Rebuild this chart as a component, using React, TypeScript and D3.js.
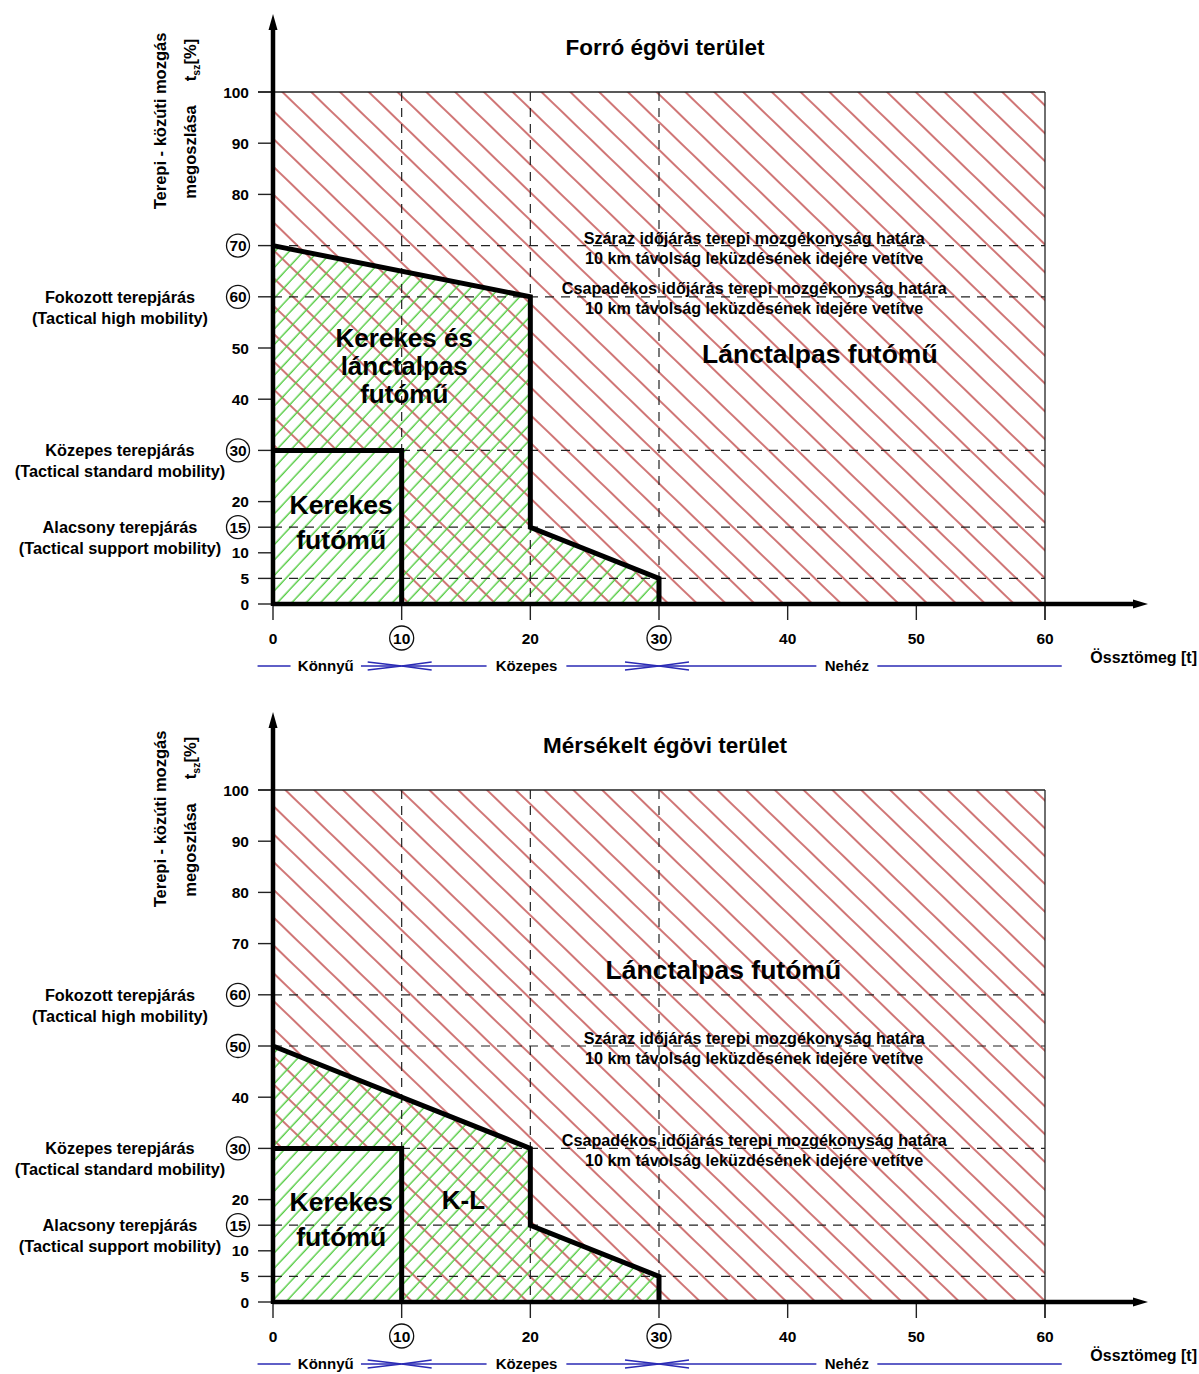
import React from "react";
import * as d3 from "d3";

const xTicks = [0, 10, 20, 30, 40, 50, 60];
const xCircled = [10, 30];
const yTicks = [0, 5, 10, 15, 20, 30, 40, 50, 60, 70, 80, 90, 100];
const gridX = [10, 20, 30];

const hotTitle = "Forró égövi terület";
const hotCircled = [15, 30, 60, 70];
const hotDashedY = [70, 60, 30, 15, 5];
const hotBoundary: [number, number][] = [[0, 70], [20, 60], [20, 15], [30, 5], [30, 0]];

const tempTitle = "Mérsékelt égövi terület";
const tempCircled = [15, 30, 50, 60];
const tempDashedY = [60, 50, 30, 15, 5];
const tempBoundary: [number, number][] = [[0, 50], [20, 30], [20, 15], [30, 5], [30, 0]];

const wheeledBox: [number, number][] = [[0, 30], [10, 30], [10, 0]];

const mobilityLabels = [
  { v: 60, l1: "Fokozott terepjárás", l2: "(Tactical high mobility)" },
  { v: 30, l1: "Közepes terepjárás", l2: "(Tactical standard mobility)" },
  { v: 15, l1: "Alacsony terepjárás", l2: "(Tactical support mobility)" },
];

const weightClasses = [
  { name: "Könnyű", from: -1.2, to: 10, at: 4.1 },
  { name: "Közepes", from: 10, to: 30, at: 19.7 },
  { name: "Nehéz", from: 30, to: 61.3, at: 44.6 },
];

const dryText = ["Száraz időjárás terepi mozgékonyság határa", "10 km távolság leküzdésének idejére vetítve"];
const wetText = ["Csapadékos időjárás terepi mozgékonyság határa", "10 km távolság leküzdésének idejére vetítve"];

const FONT = "'Liberation Sans', Arial, sans-serif";
const RED = "#c04848";
const GREEN = "#55cc44";
const BLUE = "#2a2ab4";

type RegionLabel = { x: number; y: number; lines: string[]; size: number; gap: number };
type PanelProps = {
  oy: number;
  title: string;
  circled: number[];
  dashedY: number[];
  boundary: [number, number][];
  regionLabels: RegionLabel[];
  notes: { x: number; y: number; lines: string[] }[];
};

function Panel({ oy, title, circled, dashedY, boundary, regionLabels, notes }: PanelProps) {
  const x = d3.scaleLinear().domain([0, 60]).range([273, 1045]);
  const y = d3.scaleLinear().domain([0, 100]).range([604 + oy, 92 + oy]);
  const line = d3.line<[number, number]>().x((d) => x(d[0])).y((d) => y(d[1]));

  const redPath =
    `M${x(0)},${y(0)}H${x(60)}V${y(100)}H${x(0)}Z` +
    `M${x(0)},${y(0)}V${y(30)}H${x(10)}V${y(0)}Z`;
  const greenPoly: [number, number][] = [[0, 0], ...boundary];

  const legendY = 666 + oy;
  return (
    <g>
      <text x={665} y={55 + oy} textAnchor="middle" fontFamily={FONT} fontWeight="bold" fontSize={22.5}>
        {title}
      </text>
      {/* hatch areas */}
      <path d={redPath} fill="url(#redHatch)" fillRule="evenodd" />
      <path d={line(greenPoly) + "Z"} fill="url(#greenHatch)" />
      {/* plot frame */}
      <line x1={258} x2={x(60)} y1={y(100)} y2={y(100)} stroke="#222" strokeWidth={1.3} />
      <line x1={x(60)} x2={x(60)} y1={y(100)} y2={y(0) + 16} stroke="#222" strokeWidth={1.3} />
      {/* grid */}
      {gridX.map((g) => (
        <line key={"gx" + g} x1={x(g)} x2={x(g)} y1={y(100)} y2={y(0)} stroke="#222" strokeWidth={1.2} strokeDasharray="9,7" />
      ))}
      {dashedY.map((g) => (
        <line key={"gy" + g} x1={x(0)} x2={x(60)} y1={y(g)} y2={y(g)} stroke="#222" strokeWidth={1.2} strokeDasharray="9,7" />
      ))}
      {/* boundaries */}
      <path d={line(boundary) || ""} fill="none" stroke="#000" strokeWidth={5} strokeLinejoin="miter" />
      <path d={line(wheeledBox) || ""} fill="none" stroke="#000" strokeWidth={5} strokeLinejoin="miter" />
      {/* y ticks */}
      {yTicks.map((t) => {
        const isC = circled.includes(t);
        return (
          <g key={"yt" + t}>
            <line x1={258} x2={x(0)} y1={y(t)} y2={y(t)} stroke="#222" strokeWidth={1.4} />
            {isC && <circle cx={238} cy={y(t)} r={11.5} fill="#fff" stroke="#111" strokeWidth={1.3} />}
            <text
              x={isC ? 238 : 249}
              y={y(t)}
              dy="0.36em"
              textAnchor={isC ? "middle" : "end"}
              fontFamily={FONT}
              fontWeight="bold"
              fontSize={15.5}
            >
              {t}
            </text>
          </g>
        );
      })}
      {/* x ticks */}
      {xTicks.map((t) => {
        const isC = xCircled.includes(t);
        return (
          <g key={"xt" + t}>
            <line x1={x(t)} x2={x(t)} y1={y(0)} y2={y(0) + 16} stroke="#222" strokeWidth={1.4} />
            {isC && <circle cx={x(t)} cy={y(0) + 34} r={12} fill="#fff" stroke="#111" strokeWidth={1.3} />}
            <text x={x(t)} y={y(0) + 34} dy="0.36em" textAnchor="middle" fontFamily={FONT} fontWeight="bold" fontSize={15.5}>
              {t}
            </text>
          </g>
        );
      })}
      {/* axes */}
      <line x1={x(0)} x2={1136} y1={y(0)} y2={y(0)} stroke="#000" strokeWidth={4.5} />
      <path d={`M1133,${y(0) - 4.5}L1148,${y(0)}L1133,${y(0) + 4.5}Z`} fill="#000" />
      <line x1={x(0)} x2={x(0)} y1={y(0) + 2} y2={28 + oy} stroke="#000" strokeWidth={4.5} />
      <path d={`M${x(0) - 4.5},${30 + oy}L${x(0)},${14 + oy}L${x(0) + 4.5},${30 + oy}Z`} fill="#000" />
      {/* y axis title */}
      <text transform={`translate(166,${121 + oy}) rotate(-90)`} textAnchor="middle" fontFamily={FONT} fontWeight="bold" fontSize={16.5}>
        Terepi - közúti mozgás
      </text>
      <text transform={`translate(196,${152 + oy}) rotate(-90)`} textAnchor="middle" fontFamily={FONT} fontWeight="bold" fontSize={16.5}>
        megoszlása
      </text>
      <text transform={`translate(196,${60 + oy}) rotate(-90)`} textAnchor="middle" fontFamily={FONT} fontWeight="bold" fontSize={16.5}>
        t<tspan fontSize={10.5} dy={4}>sz</tspan>
        <tspan dy={-4}>[%]</tspan>
      </text>
      {/* mobility labels */}
      {mobilityLabels.map((m) => (
        <g key={"m" + m.v} fontFamily={FONT} fontWeight="bold" fontSize={16.3} textAnchor="middle">
          <text x={120} y={y(m.v)} dy="0.36em">{m.l1}</text>
          <text x={120} y={y(m.v) + 21} dy="0.36em">{m.l2}</text>
        </g>
      ))}
      {/* region labels */}
      {regionLabels.map((r, i) => (
        <g key={"r" + i} fontFamily={FONT} fontWeight="bold" fontSize={r.size} textAnchor="middle">
          {r.lines.map((s, j) => (
            <text key={j} x={x(r.x)} y={y(r.y) + j * r.gap} dy="0.36em">{s}</text>
          ))}
        </g>
      ))}
      {notes.map((n, i) => (
        <g key={"n" + i} fontFamily={FONT} fontWeight="bold" fontSize={16.2} textAnchor="middle">
          {n.lines.map((s, j) => (
            <text key={j} x={x(n.x)} y={y(n.y) + j * 20} dy="0.36em">{s}</text>
          ))}
        </g>
      ))}
      {/* weight class legend */}
      {weightClasses.map((w) => {
        const tx = x(w.at);
        const half = w.name.length * 4.7 + 7;
        return (
          <g key={w.name}>
            <line x1={x(w.from)} x2={tx - half} y1={legendY} y2={legendY} stroke={BLUE} strokeWidth={1.3} />
            <line x1={tx + half} x2={x(w.to)} y1={legendY} y2={legendY} stroke={BLUE} strokeWidth={1.3} />
            <text x={tx} y={legendY} dy="0.36em" textAnchor="middle" fontFamily={FONT} fontWeight="bold" fontSize={15}>
              {w.name}
            </text>
          </g>
        );
      })}
      {xCircled.map((c) => (
        <g key={"arr" + c} stroke={BLUE} strokeWidth={1.3} fill="none">
          <path d={`M${x(c) - 34},${legendY - 4}L${x(c)},${legendY}L${x(c) - 34},${legendY + 4}`} />
          <path d={`M${x(c) + 30},${legendY - 4}L${x(c)},${legendY}L${x(c) + 30},${legendY + 4}`} />
        </g>
      ))}
      <text x={1197} y={657 + oy} dy="0.36em" textAnchor="end" fontFamily={FONT} fontWeight="bold" fontSize={16}>
        Össztömeg [t]
      </text>
    </g>
  );
}

export default function App() {
  return (
    <svg width={1199} height={1374} style={{ position: "absolute", left: 0, top: 0, background: "#fff" }}>
      <defs>
        <pattern id="redHatch" patternUnits="userSpaceOnUse" width={40} height={20} patternTransform="rotate(44)">
          <line x1={0} x2={40} y1={10} y2={10} stroke={RED} strokeWidth={1.3} />
        </pattern>
        <pattern id="greenHatch" patternUnits="userSpaceOnUse" width={40} height={10.5} patternTransform="rotate(-47)">
          <line x1={0} x2={40} y1={5} y2={5} stroke={GREEN} strokeWidth={1.4} />
        </pattern>
      </defs>
      <rect x={0} y={0} width={1199} height={1374} fill="#fff" />
      <Panel
        oy={0}
        title={hotTitle}
        circled={hotCircled}
        dashedY={hotDashedY}
        boundary={hotBoundary}
        regionLabels={[
          { x: 10.2, y: 52, lines: ["Kerekes és", "lánctalpas", "futómű"], size: 26, gap: 28 },
          { x: 42.5, y: 49, lines: ["Lánctalpas futómű"], size: 26.5, gap: 0 },
          { x: 5.3, y: 19.5, lines: ["Kerekes", "futómű"], size: 26.5, gap: 35 },
        ]}
        notes={[
          { x: 37.4, y: 71.5, lines: dryText },
          { x: 37.4, y: 61.6, lines: wetText },
        ]}
      />
      <Panel
        oy={698}
        title={tempTitle}
        circled={tempCircled}
        dashedY={tempDashedY}
        boundary={tempBoundary}
        regionLabels={[
          { x: 35, y: 65, lines: ["Lánctalpas futómű"], size: 26.5, gap: 0 },
          { x: 5.3, y: 19.7, lines: ["Kerekes", "futómű"], size: 26.5, gap: 35 },
          { x: 14.8, y: 19.9, lines: ["K-L"], size: 26, gap: 0 },
        ]}
        notes={[
          { x: 37.4, y: 51.5, lines: dryText },
          { x: 37.4, y: 31.7, lines: wetText },
        ]}
      />
    </svg>
  );
}
